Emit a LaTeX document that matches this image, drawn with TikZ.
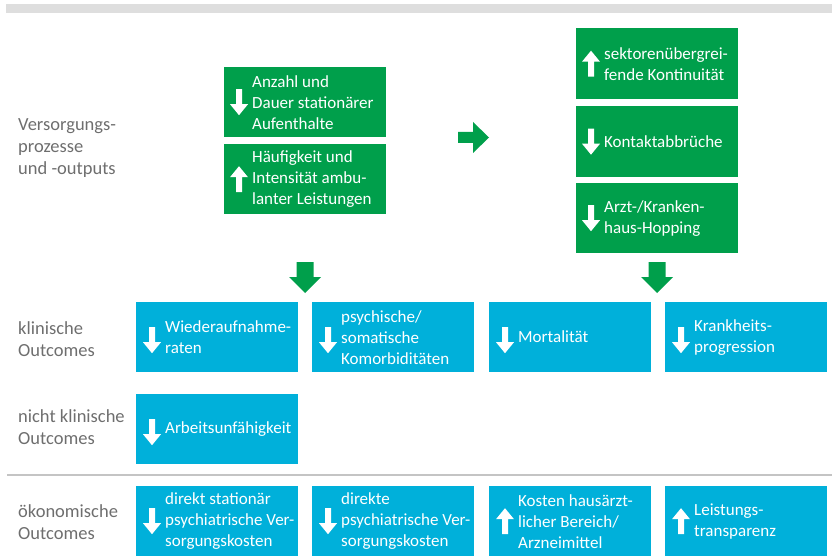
\documentclass[tikz,border=0pt]{standalone}
\usepackage{fontspec}
\setmainfont{Carlito}
\definecolor{gr}{HTML}{009F4B}
\definecolor{bl}{HTML}{00B0DA}
\definecolor{labc}{HTML}{6E6E6E}
\definecolor{barc}{HTML}{DEDEDE}
\definecolor{sepc}{HTML}{C4C4C4}
\begin{document}
\begin{tikzpicture}[x=1pt,y=-1pt,
  box/.style={minimum width=162pt, minimum height=70pt, inner sep=0pt, anchor=north west},
  gbox/.style={box, fill=gr},
  bbox/.style={box, fill=bl},
  txt/.style={anchor=west, align=left, text=white, font=\fontsize{17}{21}\selectfont, inner sep=0pt},
  labtxt/.style={anchor=west, align=left, text=labc, font=\fontsize{18.5}{22}\selectfont, inner sep=0pt},
  dnarr/.pic={\fill[white] (-3,-13) -- (3,-13) -- (3,2) -- (9,2) -- (0,13) -- (-9,2) -- (-3,2) -- cycle;},
  uparr/.pic={\fill[white] (-3,13) -- (3,13) -- (3,-2) -- (9,-2) -- (0,-13) -- (-9,-2) -- (-3,-2) -- cycle;},
  bigarr/.style={fill=gr}
]
\useasboundingbox (0,0) rectangle (832,556);
\fill[barc] (6,4) rectangle (832,13);

% left labels
\node[labtxt] (l1) at (18,148) {Versorgungs-\\prozesse\\und -outputs};
\node[labtxt] (l2) at (18,339) {klinische\\Outcomes};
\node[labtxt] (l3) at (18,427) {nicht klinische\\Outcomes};
\node[labtxt] (l4) at (18,522) {ökonomische\\Outcomes};

% green boxes left
\node[gbox] (g1) at (224,67) {};
\pic at ([xshift=15pt]g1.west) {dnarr};
\node[txt] at ([xshift=28pt]g1.west) {Anzahl und\\Dauer stationärer\\Aufenthalte};
\node[gbox] (g2) at (224,144) {};
\pic at ([xshift=15pt]g2.west) {uparr};
\node[txt] at ([xshift=28pt]g2.west) {Häufigkeit und\\Intensität ambu-\\lanter Leistungen};

% green boxes right
\node[gbox, minimum height=71pt] (g3) at (576,28) {};
\pic at ([xshift=15pt]g3.west) {uparr};
\node[txt] at ([xshift=28pt]g3.west) {sektorenübergrei-\\fende Kontinuität};
\node[gbox, minimum height=71pt] (g4) at (576,106) {};
\pic at ([xshift=15pt]g4.west) {dnarr};
\node[txt] at ([xshift=28pt]g4.west) {Kontaktabbrüche};
\node[gbox] (g5) at (576,183) {};
\pic at ([xshift=15pt]g5.west) {dnarr};
\node[txt] at ([xshift=28pt]g5.west) {Arzt-/Kranken-\\haus-Hopping};

% big green arrows
\fill[bigarr] (458,132) -- (473,132) -- (473,122) -- (489,137.5) -- (473,153) -- (473,143) -- (458,143) -- cycle;
\fill[bigarr] (296.5,262) -- (313.5,262) -- (313.5,277) -- (321,277) -- (305,293) -- (289,277) -- (296.5,277) -- cycle;
\fill[bigarr] (648.5,262) -- (665.5,262) -- (665.5,277) -- (673,277) -- (657,293) -- (641,277) -- (648.5,277) -- cycle;

% row 1
\node[bbox] (b1) at (136,302) {};
\pic at ([xshift=16pt,yshift=-3pt]b1.west) {dnarr};
\node[txt] at ([xshift=29pt]b1.west) {Wiederaufnahme-\\raten};
\node[bbox] (b2) at (312,302) {};
\pic at ([xshift=16pt,yshift=-3pt]b2.west) {dnarr};
\node[txt] at ([xshift=29pt]b2.west) {psychische/\\somatische\\Komorbiditäten};
\node[bbox] (b3) at (489,302) {};
\pic at ([xshift=16pt,yshift=-3pt]b3.west) {dnarr};
\node[txt] at ([xshift=29pt,yshift=1pt]b3.west) {Mortalität};
\node[bbox] (b4) at (665,302) {};
\pic at ([xshift=16pt,yshift=-3pt]b4.west) {dnarr};
\node[txt] at ([xshift=29pt]b4.west) {Krankheits-\\progression};

% row 2
\node[bbox] (b5) at (136,394) {};
\pic at ([xshift=16pt,yshift=-3pt]b5.west) {dnarr};
\node[txt] at ([xshift=29pt]b5.west) {Arbeitsunfähigkeit};

\draw[sepc, line width=1.5pt] (7,475) -- (832,475);

% row 3
\node[bbox] (b6) at (136,486) {};
\pic at ([xshift=16pt]b6.west) {dnarr};
\node[txt] at ([xshift=29pt]b6.west) {direkt stationär\\psychiatrische Ver-\\sorgungskosten};
\node[bbox] (b7) at (312,486) {};
\pic at ([xshift=16pt]b7.west) {dnarr};
\node[txt] at ([xshift=29pt]b7.west) {direkte\\psychiatrische Ver-\\sorgungskosten};
\node[bbox] (b8) at (489,486) {};
\pic at ([xshift=16pt]b8.west) {uparr};
\node[txt] at ([xshift=29pt]b8.west) {Kosten hausärzt-\\licher Bereich/\\Arzneimittel};
\node[bbox] (b9) at (665,486) {};
\pic at ([xshift=16pt]b9.west) {uparr};
\node[txt] at ([xshift=29pt]b9.west) {Leistungs-\\transparenz};
\end{tikzpicture}
\end{document}
